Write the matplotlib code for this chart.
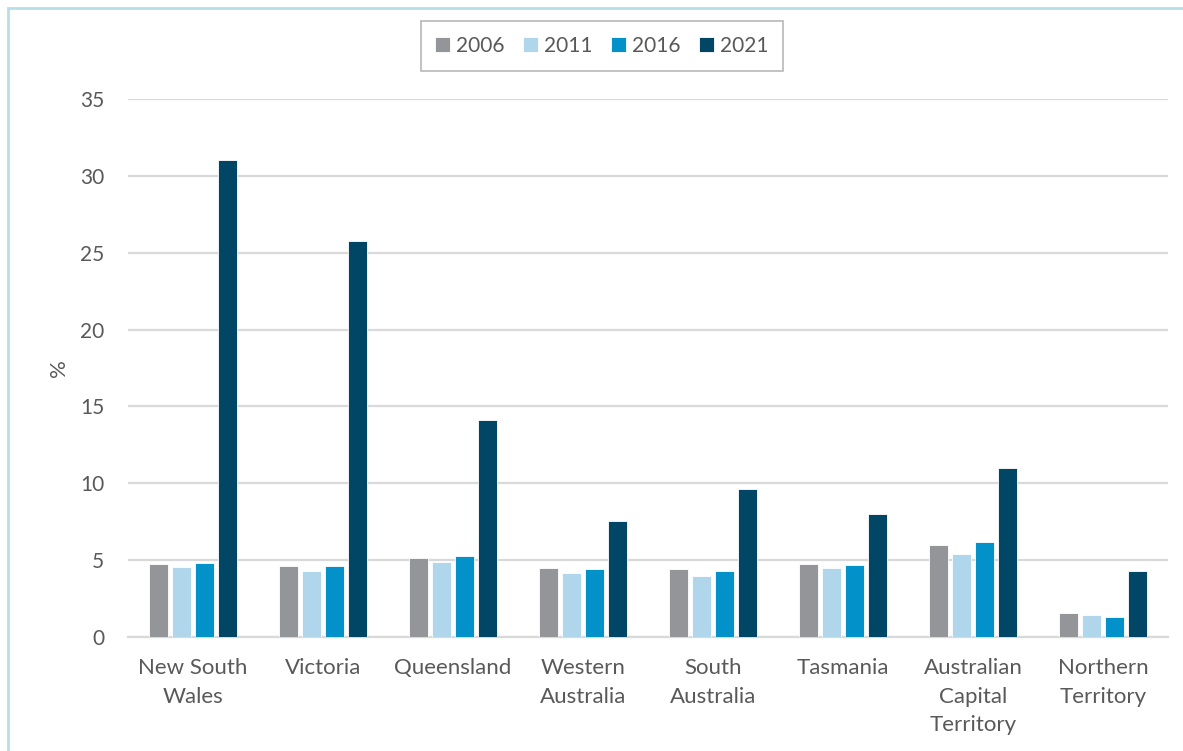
import matplotlib
matplotlib.use('Agg')
import matplotlib.pyplot as plt
import numpy as np
from matplotlib.patches import Rectangle

## data
states = ['New South\nWales', 'Victoria', 'Queensland', 'Western\nAustralia',
          'South\nAustralia', 'Tasmania', 'Australian\nCapital\nTerritory',
          'Northern\nTerritory']
years = ['2006', '2011', '2016', '2021']
v2006 = [4.78, 4.60, 5.13, 4.47, 4.44, 4.75, 6.00, 1.54]
v2011 = [4.58, 4.30, 4.87, 4.18, 4.00, 4.49, 5.40, 1.41]
v2016 = [4.82, 4.65, 5.25, 4.40, 4.27, 4.68, 6.18, 1.32]
v2021 = [31.0, 25.75, 14.1, 7.55, 9.6, 8.0, 10.97, 4.27]
colors = ['#939598', '#AFD6EB', '#0391C9', '#014665']

plt.rcParams['font.family'] = ['Lato', 'DejaVu Sans']
txt = '#595959'

fig = plt.figure(figsize=(11.83, 7.51), dpi=100)
# light blue frame around the chart
fig.patches.append(Rectangle((8 / 1183, -0.1), 1.2, 1.1 - 8 / 751,
                             transform=fig.transFigure, fill=False,
                             edgecolor='#B7DEE8', linewidth=2))

ax = fig.add_axes([128 / 1183, 1 - 637 / 751, 1040 / 1183, 538 / 751])
x = np.arange(len(states))
step = 0.177
width = 0.14
series = [v2006, v2011, v2016, v2021]
for i, vals in enumerate(series):
    ax.bar(x + (i - 1.5) * step, vals, width, color=colors[i], label=years[i],
           edgecolor='white', linewidth=0.6, zorder=3)

ax.set_xlim(-0.5, len(states) - 0.5)
ax.set_ylim(0, 35)
ax.set_yticks(range(0, 36, 5))
ax.yaxis.grid(True, color='#D9D9D9', linewidth=1.6, zorder=0)
ax.set_axisbelow(True)
for s in ['top', 'right', 'left']:
    ax.spines[s].set_visible(False)
ax.spines['bottom'].set_color('#D9D9D9')
ax.spines['bottom'].set_linewidth(1.6)
ax.tick_params(axis='both', length=0, colors=txt)
ax.tick_params(axis='y', pad=17, labelsize=15)
ax.tick_params(axis='x', pad=15, labelsize=16)
ax.set_xticks(x)
ax.set_xticklabels(states, linespacing=1.55)
ax.set_ylabel('%', fontsize=16, color=txt, labelpad=8)

leg = fig.legend(loc='center', bbox_to_anchor=(602 / 1183, 1 - 46 / 751), ncol=4,
                 fontsize=15, frameon=True, fancybox=False, edgecolor='#A6A6A6',
                 handlelength=0.7, handleheight=0.7, handletextpad=0.3,
                 columnspacing=0.9, borderpad=0.7, labelcolor=txt)
leg.get_frame().set_linewidth(1.2)

fig.savefig('out.png', dpi=100)
